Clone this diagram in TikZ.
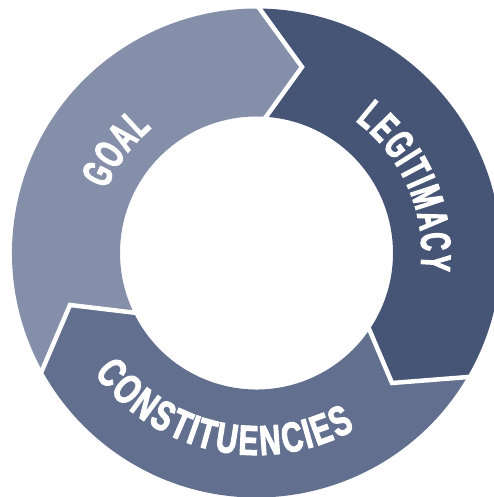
\documentclass[tikz,border=0pt]{standalone}
\usepackage{fontspec}
\usetikzlibrary{calc,decorations.text}
\newfontfamily\narrowfont[FakeStretch=0.6,FakeBold=2.5]{Liberation Sans}
\newfontfamily\widefont[FakeStretch=0.7,FakeBold=2.5]{Liberation Sans}
\definecolor{goalc}{RGB}{133,143,170}
\definecolor{legc}{RGB}{70,84,117}
\definecolor{conc}{RGB}{99,111,143}
\tikzset{
  sep/.style={draw=white, line width=4.5pt, line join=miter},
  ringlabel/.style 2 args={decorate, decoration={text effects along path, text={#2},
    text effects/.cd, text along path, fit text to path,
    every character/.style={font=#1\fontsize{42}{44}\selectfont\bfseries, text=white, inner sep=0pt, anchor=base}}}
}
\begin{document}
\begin{tikzpicture}[x=1pt,y=1pt]
\useasboundingbox (-256.5,-244) rectangle (237.5,253);
\clip (-256.5,-244) rectangle (237.5,253);

% corner points of the three arrow segments (outer / tip / inner)
\coordinate (A1) at (89.3:244.5);
\coordinate (T1) at (45.5,186);
\coordinate (A2) at (86:136.5);
\coordinate (B1) at (-34.2:136.5);
\coordinate (T2) at (135.5,-130);
\coordinate (B2) at (-30.5:244.5);
\coordinate (C1) at (208.7:244.5);
\coordinate (T3) at (-186.5,-52);
\coordinate (C2) at (205.9:136.5);

% Goal segment
\fill[goalc] (C1) arc[start angle=208.7, end angle=89.3, radius=244.5] -- (T1) -- (A2)
  arc[start angle=86, end angle=205.9, radius=136.5] -- (T3) -- cycle;
% Legitimacy segment
\fill[legc] (A1) arc[start angle=89.3, end angle=-30.5, radius=244.5] -- (T2) -- (B1)
  arc[start angle=-34.2, end angle=86, radius=136.5] -- (T1) -- cycle;
% Constituencies segment
\fill[conc] (B2) arc[start angle=329.5, end angle=208.7, radius=244.5] -- (T3) -- (C2)
  arc[start angle=205.9, end angle=325.8, radius=136.5] -- (T2) -- cycle;

% white separators between the segments
\draw[sep] ($(T1)!1.15!(A1)$) -- (T1) -- ($(T1)!1.15!(A2)$);
\draw[sep] ($(T2)!1.15!(B1)$) -- (T2) -- ($(T2)!1.15!(B2)$);
\draw[sep] ($(T3)!1.15!(C1)$) -- (T3) -- ($(T3)!1.15!(C2)$);

% curved labels, letters spread evenly over each arc
\path[ringlabel={\narrowfont}{GOAL}]
  (157:163) arc[start angle=157, end angle=130, radius=163];
\path[ringlabel={\narrowfont}{LEGITIMACY}]
  (53.2:165) arc[start angle=53.2, end angle=-6, radius=165];
\path[ringlabel={\widefont}{CONSTITUENCIES}]
  (216.5:202) arc[start angle=216.5, end angle=299.2, radius=202];
\end{tikzpicture}
\end{document}
